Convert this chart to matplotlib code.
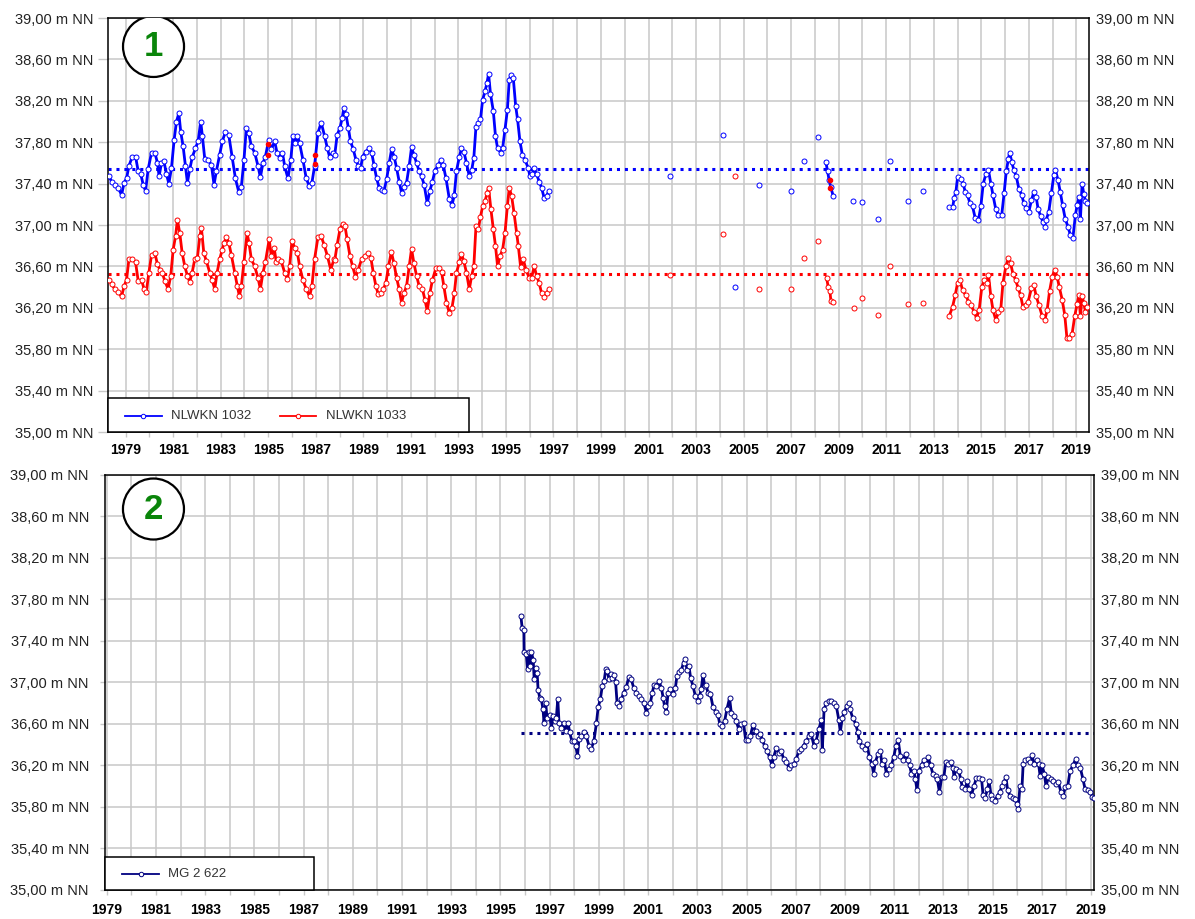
import numpy as np
import matplotlib
matplotlib.use("Agg")
import matplotlib.pyplot as plt
import matplotlib.ticker as ticker
from matplotlib.patches import Ellipse, Rectangle
from matplotlib.lines import Line2D

plt.rcParams['font.family'] = ['Liberation Sans', 'DejaVu Sans']

# ---- Messstelle NLWKN 1032 (Jahr, m NN) ----
t_1032 = [1978.30, 1978.41, 1978.55, 1978.69, 1978.83, 1978.94, 1979.04, 1979.14, 1979.28, 1979.42,
          1979.53, 1979.64, 1979.74, 1979.84, 1979.95, 1980.09, 1980.23, 1980.34, 1980.41, 1980.51,
          1980.61, 1980.72, 1980.82, 1980.93, 1981.04, 1981.14, 1981.24, 1981.32, 1981.42, 1981.52,
          1981.60, 1981.70, 1981.81, 1981.94, 1982.05, 1982.16, 1982.23, 1982.33, 1982.47, 1982.61,
          1982.72, 1982.82, 1982.96, 1983.07, 1983.20, 1983.34, 1983.48, 1983.62, 1983.76, 1983.87,
          1983.98, 1984.08, 1984.18, 1984.29, 1984.43, 1984.57, 1984.67, 1984.78, 1984.88, 1985.02,
          1985.13, 1985.27, 1985.37, 1985.48, 1985.60, 1985.69, 1985.83, 1985.95, 1986.04, 1986.14,
          1986.23, 1986.32, 1986.46, 1986.60, 1986.72, 1986.84, 1986.95, 1987.09, 1987.23, 1987.37,
          1987.49, 1987.58, 1987.72, 1987.80, 1987.90, 1988.02, 1988.11, 1988.18, 1988.27, 1988.37,
          1988.46, 1988.58, 1988.69, 1988.79, 1988.89, 1988.97, 1989.11, 1989.25, 1989.35, 1989.45,
          1989.56, 1989.67, 1989.77, 1989.87, 1989.98, 1990.09, 1990.19, 1990.30, 1990.40, 1990.51,
          1990.61, 1990.71, 1990.82, 1990.93, 1991.03, 1991.13, 1991.24, 1991.35, 1991.45, 1991.56,
          1991.69, 1991.80, 1991.91, 1992.01, 1992.15, 1992.27, 1992.36, 1992.48, 1992.62, 1992.73,
          1992.83, 1992.92, 1993.04, 1993.13, 1993.23, 1993.34, 1993.46, 1993.56, 1993.65, 1993.74,
          1993.84, 1993.93, 1994.02, 1994.12, 1994.20, 1994.27, 1994.35, 1994.47, 1994.56, 1994.65,
          1994.78, 1994.86, 1994.96, 1995.06, 1995.14, 1995.21, 1995.31, 1995.41, 1995.49, 1995.59,
          1995.69, 1995.80, 1995.94, 1996.01, 1996.11, 1996.19, 1996.29, 1996.40, 1996.50, 1996.61,
          1996.71, 1996.81,
          2001.90, 2004.14, 2004.63, 2005.66, 2006.98, 2007.54, 2008.14, 2008.46, 2008.53, 2008.60,
          2008.66, 2008.77, 2009.61, 2009.96, 2010.66, 2011.15, 2011.90, 2012.53,
          2013.65, 2013.79, 2013.86, 2013.93, 2014.00, 2014.14, 2014.24, 2014.32, 2014.42, 2014.52,
          2014.63, 2014.74, 2014.88, 2014.98, 2015.08, 2015.19, 2015.30, 2015.40, 2015.49, 2015.61,
          2015.72, 2015.86, 2015.96, 2016.05, 2016.14, 2016.19, 2016.28, 2016.37, 2016.47, 2016.58,
          2016.70, 2016.79, 2016.89, 2017.00, 2017.11, 2017.21, 2017.31, 2017.39, 2017.49, 2017.59,
          2017.66, 2017.73, 2017.84, 2017.95, 2018.05, 2018.12, 2018.23, 2018.32, 2018.42, 2018.53,
          2018.65, 2018.75, 2018.85, 2018.96, 2019.03, 2019.10, 2019.17, 2019.24, 2019.31, 2019.38,
          2019.45]
h_1032 = [37.47, 37.42, 37.39, 37.36, 37.29, 37.41, 37.45, 37.57, 37.66, 37.66,
          37.52, 37.49, 37.39, 37.33, 37.54, 37.70, 37.70, 37.60, 37.47, 37.60,
          37.62, 37.49, 37.40, 37.55, 37.82, 38.00, 38.08, 37.90, 37.76, 37.57,
          37.41, 37.54, 37.66, 37.74, 37.81, 38.00, 37.86, 37.64, 37.63, 37.58,
          37.39, 37.52, 37.68, 37.81, 37.90, 37.87, 37.66, 37.45, 37.32, 37.37,
          37.63, 37.94, 37.89, 37.76, 37.70, 37.57, 37.46, 37.60, 37.66, 37.82,
          37.73, 37.81, 37.70, 37.65, 37.70, 37.57, 37.45, 37.63, 37.86, 37.79,
          37.86, 37.79, 37.63, 37.45, 37.38, 37.41, 37.57, 37.89, 37.99, 37.86,
          37.74, 37.66, 37.70, 37.68, 37.87, 37.94, 38.03, 38.13, 38.07, 37.94,
          37.81, 37.73, 37.63, 37.57, 37.55, 37.66, 37.71, 37.74, 37.70, 37.58,
          37.45, 37.36, 37.34, 37.33, 37.44, 37.60, 37.73, 37.66, 37.55, 37.42,
          37.31, 37.37, 37.41, 37.57, 37.75, 37.68, 37.60, 37.52, 37.47, 37.39,
          37.21, 37.33, 37.42, 37.52, 37.58, 37.63, 37.58, 37.45, 37.25, 37.19,
          37.29, 37.52, 37.66, 37.74, 37.71, 37.60, 37.47, 37.53, 37.65, 37.95,
          37.99, 38.02, 38.21, 38.29, 38.37, 38.46, 38.27, 38.10, 37.86, 37.74,
          37.70, 37.74, 37.92, 38.11, 38.40, 38.45, 38.42, 38.15, 38.02, 37.81,
          37.68, 37.63, 37.55, 37.47, 37.49, 37.55, 37.49, 37.42, 37.36, 37.26,
          37.28, 37.33,
          37.47, 37.87, 36.40, 37.39, 37.33, 37.62, 37.85, 37.61, 37.52, 37.43,
          37.37, 37.28, 37.23, 37.22, 37.06, 37.62, 37.23, 37.33,
          37.17, 37.17, 37.26, 37.32, 37.46, 37.44, 37.40, 37.32, 37.29, 37.21,
          37.18, 37.07, 37.05, 37.18, 37.40, 37.49, 37.53, 37.40, 37.29, 37.15,
          37.10, 37.10, 37.31, 37.52, 37.64, 37.70, 37.61, 37.53, 37.47, 37.35,
          37.29, 37.21, 37.16, 37.13, 37.24, 37.32, 37.27, 37.15, 37.09, 37.03,
          36.98, 37.05, 37.13, 37.31, 37.48, 37.53, 37.43, 37.32, 37.19, 37.06,
          36.98, 36.90, 36.87, 37.10, 37.19, 37.27, 37.06, 37.40, 37.30, 37.23,
          37.21]

# ---- Messstelle NLWKN 1033 ----
t_1033 = [1978.30, 1978.41, 1978.55, 1978.69, 1978.83, 1978.94, 1979.04, 1979.14, 1979.28, 1979.42,
          1979.53, 1979.67, 1979.78, 1979.87, 1979.98, 1980.09, 1980.23, 1980.34, 1980.44, 1980.54,
          1980.65, 1980.79, 1980.90, 1981.00, 1981.10, 1981.18, 1981.28, 1981.38, 1981.49, 1981.60,
          1981.70, 1981.80, 1981.91, 1982.02, 1982.12, 1982.19, 1982.29, 1982.40, 1982.54, 1982.64,
          1982.75, 1982.85, 1982.96, 1983.06, 1983.14, 1983.24, 1983.34, 1983.45, 1983.59, 1983.70,
          1983.79, 1983.87, 1983.98, 1984.11, 1984.19, 1984.29, 1984.43, 1984.57, 1984.67, 1984.78,
          1984.88, 1985.04, 1985.13, 1985.25, 1985.34, 1985.41, 1985.55, 1985.69, 1985.81, 1985.90,
          1986.00, 1986.11, 1986.23, 1986.32, 1986.46, 1986.60, 1986.74, 1986.84, 1986.95, 1987.09,
          1987.23, 1987.35, 1987.49, 1987.63, 1987.77, 1987.80, 1987.90, 1988.02, 1988.13, 1988.23,
          1988.32, 1988.44, 1988.55, 1988.67, 1988.79, 1988.93, 1989.07, 1989.21, 1989.32, 1989.42,
          1989.53, 1989.63, 1989.74, 1989.84, 1989.95, 1990.06, 1990.18, 1990.29, 1990.40, 1990.51,
          1990.61, 1990.71, 1990.82, 1990.93, 1991.03, 1991.13, 1991.24, 1991.35, 1991.49, 1991.59,
          1991.69, 1991.80, 1991.91, 1992.05, 1992.20, 1992.29, 1992.39, 1992.50, 1992.62, 1992.73,
          1992.83, 1992.92, 1993.04, 1993.13, 1993.23, 1993.34, 1993.46, 1993.56, 1993.65, 1993.74,
          1993.84, 1993.93, 1994.02, 1994.12, 1994.21, 1994.27, 1994.37, 1994.47, 1994.56, 1994.65,
          1994.75, 1994.86, 1994.96, 1995.06, 1995.14, 1995.24, 1995.34, 1995.45, 1995.52, 1995.62,
          1995.73, 1995.84, 1995.98, 1996.08, 1996.19, 1996.29, 1996.40, 1996.50, 1996.61, 1996.71,
          1996.81,
          2001.90, 2004.14, 2004.63, 2005.66, 2006.98, 2007.54, 2008.14, 2008.49, 2008.56, 2008.63,
          2008.67, 2008.77, 2009.64, 2009.96, 2010.66, 2011.15, 2011.90, 2012.53,
          2013.65, 2013.79, 2013.90, 2014.00, 2014.10, 2014.21, 2014.35, 2014.46, 2014.56, 2014.70,
          2014.80, 2014.91, 2015.02, 2015.12, 2015.22, 2015.30, 2015.40, 2015.49, 2015.61, 2015.72,
          2015.82, 2015.91, 2016.03, 2016.14, 2016.23, 2016.33, 2016.44, 2016.55, 2016.65, 2016.75,
          2016.86, 2016.97, 2017.11, 2017.21, 2017.31, 2017.42, 2017.56, 2017.67, 2017.77, 2017.87,
          2017.98, 2018.09, 2018.19, 2018.28, 2018.40, 2018.51, 2018.60, 2018.70, 2018.82, 2018.93,
          2019.03, 2019.10, 2019.17, 2019.24, 2019.31, 2019.38, 2019.45]
h_1033 = [36.47, 36.43, 36.38, 36.35, 36.31, 36.41, 36.47, 36.67, 36.67, 36.64,
          36.46, 36.47, 36.38, 36.35, 36.54, 36.71, 36.73, 36.62, 36.57, 36.54,
          36.46, 36.38, 36.51, 36.76, 36.89, 37.05, 36.92, 36.73, 36.60, 36.51,
          36.45, 36.54, 36.67, 36.68, 36.89, 36.97, 36.73, 36.65, 36.54, 36.47,
          36.38, 36.54, 36.67, 36.76, 36.83, 36.88, 36.83, 36.71, 36.54, 36.41,
          36.31, 36.41, 36.64, 36.92, 36.83, 36.67, 36.60, 36.49, 36.38, 36.54,
          36.64, 36.86, 36.70, 36.78, 36.64, 36.67, 36.65, 36.54, 36.48, 36.60,
          36.85, 36.78, 36.73, 36.60, 36.47, 36.38, 36.31, 36.41, 36.67, 36.88,
          36.89, 36.81, 36.70, 36.57, 36.67, 36.66, 36.81, 36.96, 37.01, 36.99,
          36.86, 36.70, 36.60, 36.50, 36.57, 36.67, 36.70, 36.73, 36.68, 36.54,
          36.41, 36.33, 36.34, 36.38, 36.44, 36.60, 36.74, 36.63, 36.49, 36.38,
          36.25, 36.34, 36.41, 36.60, 36.77, 36.63, 36.51, 36.41, 36.38, 36.28,
          36.17, 36.34, 36.47, 36.58, 36.58, 36.55, 36.41, 36.25, 36.15, 36.20,
          36.34, 36.54, 36.64, 36.72, 36.65, 36.54, 36.38, 36.51, 36.60, 36.99,
          36.96, 37.08, 37.18, 37.23, 37.31, 37.36, 37.15, 36.96, 36.80, 36.60,
          36.70, 36.76, 36.92, 37.18, 37.36, 37.28, 37.12, 36.92, 36.80, 36.59,
          36.67, 36.57, 36.49, 36.49, 36.60, 36.51, 36.44, 36.34, 36.30, 36.34,
          36.38,
          36.52, 36.91, 37.47, 36.38, 36.38, 36.68, 36.85, 36.49, 36.40, 36.36,
          36.27, 36.26, 36.20, 36.29, 36.13, 36.60, 36.24, 36.25,
          36.12, 36.21, 36.32, 36.44, 36.47, 36.37, 36.32, 36.26, 36.23, 36.16,
          36.10, 36.18, 36.40, 36.47, 36.44, 36.52, 36.31, 36.18, 36.08, 36.16,
          36.19, 36.44, 36.60, 36.68, 36.63, 36.53, 36.47, 36.39, 36.32, 36.21,
          36.23, 36.26, 36.39, 36.42, 36.31, 36.23, 36.12, 36.08, 36.18, 36.36,
          36.50, 36.57, 36.50, 36.40, 36.28, 36.13, 35.91, 35.91, 35.95, 36.12,
          36.24, 36.32, 36.12, 36.31, 36.25, 36.16, 36.21]

# einzelne rote Punkte im Bereich der 1032-Ganglinie
t_extra = [1985.00, 1985.00, 1986.98, 1986.98, 2008.63, 2008.62]
h_extra = [37.78, 37.68, 37.68, 37.59, 37.43, 37.36]

# ---- Messstelle MG 2 622 ----
t_622 = [1995.83, 1995.88, 1995.95, 1995.96, 1996.05, 1996.10, 1996.15, 1996.22, 1996.26, 1996.33,
         1996.37, 1996.43, 1996.49, 1996.53, 1996.60, 1996.66, 1996.73, 1996.77, 1996.84, 1996.89,
         1997.00, 1997.07, 1997.14, 1997.21, 1997.27, 1997.33, 1997.38, 1997.48, 1997.57, 1997.65,
         1997.75, 1997.81, 1997.90, 1997.99, 1998.06, 1998.13, 1998.19, 1998.29, 1998.40, 1998.49,
         1998.60, 1998.69, 1998.80, 1998.90, 1998.97, 1999.06, 1999.14, 1999.21, 1999.28, 1999.34,
         1999.41, 1999.48, 1999.55, 1999.62, 1999.68, 1999.74, 1999.82, 1999.91, 2000.01, 2000.12,
         2000.21, 2000.32, 2000.41, 2000.52, 2000.63, 2000.73, 2000.83, 2000.93, 2001.00, 2001.09,
         2001.17, 2001.24, 2001.33, 2001.44, 2001.54, 2001.61, 2001.67, 2001.74, 2001.81, 2001.90,
         2002.01, 2002.11, 2002.17, 2002.26, 2002.35, 2002.44, 2002.51, 2002.58, 2002.66, 2002.73,
         2002.82, 2002.92, 2003.03, 2003.09, 2003.16, 2003.23, 2003.30, 2003.36, 2003.43, 2003.53,
         2003.64, 2003.74, 2003.84, 2003.91, 2004.00, 2004.11, 2004.20, 2004.31, 2004.38, 2004.48,
         2004.58, 2004.68, 2004.79, 2004.88, 2004.96, 2005.06, 2005.15, 2005.26, 2005.37, 2005.46,
         2005.56, 2005.64, 2005.73, 2005.83, 2005.94, 2006.03, 2006.10, 2006.21, 2006.32, 2006.41,
         2006.51, 2006.62, 2006.72, 2006.82, 2006.91, 2007.02, 2007.12, 2007.22, 2007.32, 2007.43,
         2007.54, 2007.63, 2007.74, 2007.83, 2007.94, 2008.04, 2008.08, 2008.15, 2008.24, 2008.35,
         2008.44, 2008.54, 2008.65, 2008.75, 2008.81, 2008.89, 2008.98, 2009.08, 2009.16, 2009.21,
         2009.31, 2009.44, 2009.52, 2009.58, 2009.69, 2009.80, 2009.89, 2009.99, 2010.10, 2010.16,
         2010.23, 2010.34, 2010.44, 2010.50, 2010.60, 2010.68, 2010.78, 2010.88, 2010.98, 2011.07,
         2011.16, 2011.25, 2011.35, 2011.46, 2011.55, 2011.63, 2011.70, 2011.80, 2011.86, 2011.93,
         2012.00, 2012.11, 2012.20, 2012.30, 2012.38, 2012.48, 2012.57, 2012.68, 2012.75, 2012.84,
         2012.93, 2013.02, 2013.09, 2013.20, 2013.29, 2013.39, 2013.43, 2013.52, 2013.63, 2013.70,
         2013.77, 2013.88, 2013.97, 2014.04, 2014.15, 2014.24, 2014.34, 2014.45, 2014.55, 2014.61,
         2014.69, 2014.79, 2014.86, 2014.93, 2014.99, 2015.10, 2015.20, 2015.29, 2015.37, 2015.47,
         2015.54, 2015.61, 2015.70, 2015.81, 2015.90, 2015.99, 2016.04, 2016.11, 2016.19, 2016.24,
         2016.33, 2016.42, 2016.52, 2016.60, 2016.69, 2016.79, 2016.87, 2016.93, 2017.01, 2017.10,
         2017.17, 2017.27, 2017.37, 2017.46, 2017.58, 2017.67, 2017.78, 2017.87, 2017.95, 2018.05,
         2018.15, 2018.26, 2018.37, 2018.46, 2018.56, 2018.67, 2018.76, 2018.87, 2018.97, 2019.05,
         2019.12]
h_622 = [37.64, 37.53, 37.51, 37.29, 37.27, 37.13, 37.29, 37.16, 37.29, 37.22,
         37.03, 37.14, 37.09, 36.93, 36.85, 36.84, 36.74, 36.61, 36.80, 36.66,
         36.69, 36.56, 36.68, 36.63, 36.66, 36.84, 36.61, 36.56, 36.61, 36.53,
         36.61, 36.52, 36.44, 36.44, 36.39, 36.29, 36.46, 36.48, 36.52, 36.48,
         36.39, 36.36, 36.44, 36.61, 36.76, 36.84, 36.97, 37.01, 37.13, 37.11,
         37.03, 37.08, 37.04, 37.07, 37.00, 36.80, 36.77, 36.84, 36.90, 36.96,
         37.05, 37.03, 36.95, 36.90, 36.87, 36.84, 36.80, 36.71, 36.77, 36.80,
         36.90, 36.98, 36.97, 37.01, 36.95, 36.85, 36.77, 36.72, 36.90, 36.94,
         36.89, 36.95, 37.06, 37.10, 37.12, 37.19, 37.23, 37.12, 37.16, 37.04,
         36.97, 36.87, 36.82, 36.87, 36.94, 37.07, 36.97, 36.98, 36.90, 36.89,
         36.76, 36.72, 36.69, 36.60, 36.58, 36.63, 36.74, 36.85, 36.71, 36.68,
         36.63, 36.55, 36.60, 36.61, 36.45, 36.45, 36.48, 36.59, 36.53, 36.48,
         36.50, 36.45, 36.39, 36.34, 36.28, 36.20, 36.28, 36.37, 36.32, 36.34,
         36.26, 36.23, 36.18, 36.20, 36.21, 36.26, 36.34, 36.36, 36.39, 36.44,
         36.48, 36.50, 36.39, 36.44, 36.55, 36.64, 36.35, 36.74, 36.80, 36.82,
         36.82, 36.80, 36.77, 36.64, 36.52, 36.66, 36.72, 36.77, 36.80, 36.74,
         36.66, 36.60, 36.52, 36.44, 36.39, 36.36, 36.41, 36.28, 36.21, 36.12,
         36.23, 36.31, 36.34, 36.21, 36.25, 36.12, 36.17, 36.20, 36.28, 36.39,
         36.45, 36.29, 36.25, 36.31, 36.25, 36.20, 36.12, 36.15, 36.07, 35.96,
         36.15, 36.20, 36.25, 36.21, 36.28, 36.20, 36.12, 36.10, 36.07, 35.94,
         36.09, 36.09, 36.23, 36.21, 36.23, 36.18, 36.09, 36.17, 36.15, 36.07,
         35.99, 35.97, 36.05, 35.97, 35.92, 36.00, 36.08, 36.08, 36.07, 35.92,
         35.89, 35.97, 36.05, 35.92, 35.88, 35.86, 35.91, 35.94, 36.00, 36.04,
         36.09, 35.96, 35.91, 35.89, 35.88, 35.83, 35.78, 36.00, 35.97, 36.21,
         36.25, 36.26, 36.23, 36.30, 36.21, 36.25, 36.21, 36.10, 36.20, 36.12,
         36.00, 36.09, 36.07, 36.05, 36.02, 36.04, 35.94, 35.91, 35.99, 36.00,
         36.15, 36.20, 36.26, 36.20, 36.18, 36.07, 35.97, 35.96, 35.94, 35.90,
         35.89]

# Mittelwerte (gepunktete Linien)
mean_1032 = 37.54
mean_1033 = 36.53
mean_622 = 36.51

y_ticks = [35.0, 35.4, 35.8, 36.2, 36.6, 37.0, 37.4, 37.8, 38.2, 38.6, 39.0]
years = list(range(1979, 2020))

BLUE = '#0000ff'
RED = '#ff0000'
NAVY = '#000080'
GRID = '#c8c8c8'
TXT = '#222222'


def with_gaps(t, h, max_gap=0.25):
    # Lücken in der Zeitreihe nicht verbinden
    t = np.asarray(t, float)
    h = np.asarray(h, float)
    idx = np.where(np.diff(t) > max_gap)[0] + 1
    return np.insert(t, idx, np.nan), np.insert(h, idx, np.nan)


def nn_fmt(v, pos):
    return f"{v:.2f} m NN".replace('.', ',')


def style_axis(ax, xlim, ytick_len, ytick_pad, xlab_pad):
    ax.set_xlim(*xlim)
    ax.set_ylim(35.0, 39.0)
    ax.set_yticks(y_ticks)
    ax.yaxis.set_major_formatter(ticker.FuncFormatter(nn_fmt))
    ax.set_xticks(years)
    ax.set_xticklabels([str(y) if y % 2 == 1 else '' for y in years],
                       fontweight='bold', fontsize=10, color='black')
    ax.grid(True, color=GRID, lw=1.1)
    ax.set_axisbelow(True)
    ax.tick_params(axis='x', length=3.6, width=1, color=GRID, pad=xlab_pad)
    ax.tick_params(axis='y', length=ytick_len, width=1, color=GRID, pad=ytick_pad,
                   labelsize=10.5, labelcolor=TXT)
    for sp in ax.spines.values():
        sp.set_color('black')
        sp.set_linewidth(1.1)
    # rechte Beschriftung
    ax2 = ax.twinx()
    ax2.set_ylim(35.0, 39.0)
    ax2.set_yticks(y_ticks)
    ax2.yaxis.set_major_formatter(ticker.FuncFormatter(nn_fmt))
    ax2.tick_params(axis='y', length=0, pad=5, labelsize=10.5, labelcolor=TXT)
    for sp in ax2.spines.values():
        sp.set_visible(False)


def series(ax, t, h, color, z):
    tt, hh = with_gaps(t, h)
    ax.plot(tt, hh, color=color, lw=2.0, marker='o', ms=3.6, mfc='white',
            mec=color, mew=0.7, zorder=z)


def circle_label(ax, xc, yc, w, hgt, txt):
    ax.add_patch(Ellipse((xc, yc), w, hgt, transform=ax.transAxes, fc='white',
                         ec='black', lw=1.6, zorder=6))
    ax.text(xc, yc, txt, transform=ax.transAxes, ha='center', va='center',
            fontsize=25, fontweight='bold', color='#0a850a', zorder=7)


def legend_box(ax, w, hgt, entries):
    ax.add_patch(Rectangle((0, 0), w, hgt, transform=ax.transAxes, fc='white',
                           ec='black', lw=1.1, zorder=6, clip_on=False))
    for x0, x1, xt, color, label in entries:
        yc = hgt * 0.47
        ax.add_line(Line2D([x0, x1], [yc, yc], transform=ax.transAxes, color=color,
                           lw=1.3, zorder=7))
        ax.add_line(Line2D([(x0 + x1) / 2], [yc], transform=ax.transAxes, color=color,
                           marker='o', ms=3.2, mfc='white', mew=0.7, zorder=8))
        ax.text(xt, yc, label, transform=ax.transAxes, ha='left', va='center',
                fontsize=9.5, color='#333333', zorder=8)


fig = plt.figure(figsize=(11.95, 9.19), dpi=100)

# ---------- oberes Diagramm ----------
ax1 = fig.add_axes([0.09038, 0.52992, 0.82092, 0.45049])
xlim1 = (1978.26, 2019.53)
ax1.plot(xlim1, [mean_1032] * 2, color=BLUE, lw=2.2, ls=(0, (1, 1.6)), zorder=2)
ax1.plot(xlim1, [mean_1033] * 2, color=RED, lw=2.2, ls=(0, (1, 1.6)), zorder=2)
series(ax1, t_1033, h_1033, RED, 3)
series(ax1, t_1032, h_1032, BLUE, 4)
ax1.plot(t_extra, h_extra, ls='none', marker='o', ms=3, color=RED, zorder=5)
style_axis(ax1, xlim1, ytick_len=7.2, ytick_pad=3, xlab_pad=4)
circle_label(ax1, 0.0464, 0.9312, 0.0622, 0.1473, '1')
legend_box(ax1, 0.368, 0.0821,
           [(0.0173, 0.0550, 0.0642, BLUE, 'NLWKN 1032'),
            (0.1753, 0.2120, 0.2222, RED, 'NLWKN 1033')])

# ---------- unteres Diagramm ----------
ax2 = fig.add_axes([0.08787, 0.03156, 0.82762, 0.45158])
xlim2 = (1978.93, 2019.12)
ax2.plot([t_622[0], xlim2[1]], [mean_622] * 2, color=NAVY, lw=2.2, ls=(0, (1, 1.6)), zorder=2)
series(ax2, t_622, h_622, NAVY, 4)
style_axis(ax2, xlim2, ytick_len=3.6, ytick_pad=8, xlab_pad=6)
circle_label(ax2, 0.049, 0.918, 0.0617, 0.147, '2')
legend_box(ax2, 0.2113, 0.0795,
           [(0.0172, 0.0546, 0.0637, NAVY, 'MG 2 622')])

fig.savefig('out.png', dpi=100)
